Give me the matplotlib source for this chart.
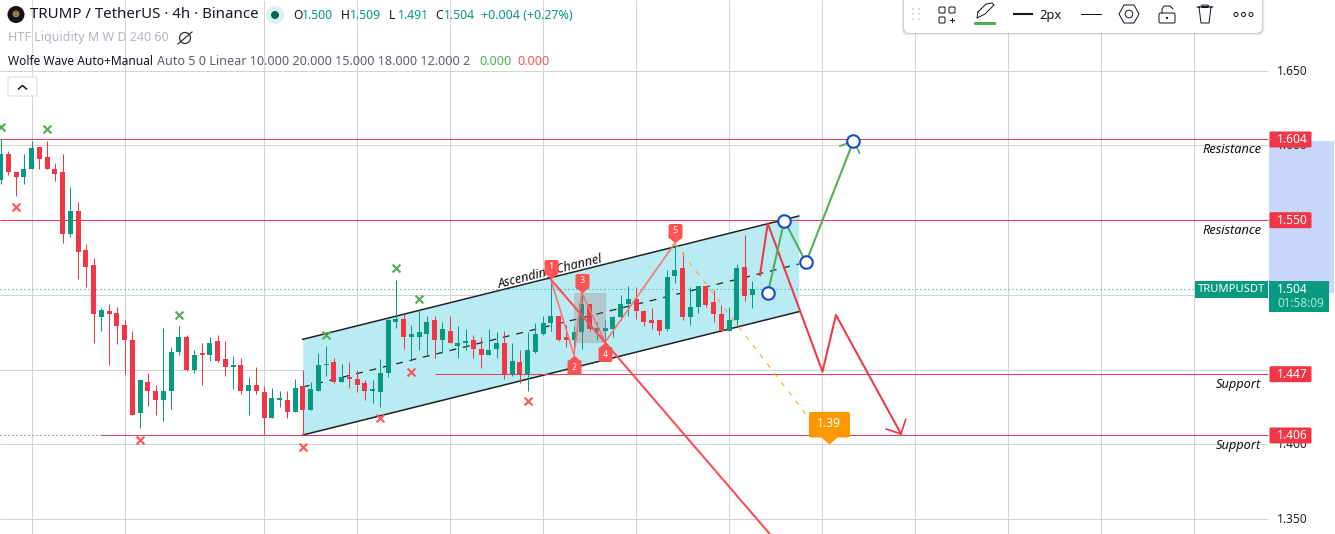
import numpy as np
import matplotlib
matplotlib.use("Agg")
import matplotlib.pyplot as plt
from matplotlib.path import Path
from matplotlib.patches import Rectangle, FancyBboxPatch, Circle, Polygon

plt.rcParams['font.family'] = ['Noto Sans', 'DejaVu Sans']

# ---------- candles ----------
opens = [1.577,1.594,1.582,1.579,1.584,1.599,1.592,1.584,1.582,1.541,1.556,1.530,1.520,1.485,1.489,1.488,1.480,1.470,1.421,1.442,
         1.436,1.430,1.436,1.462,1.472,1.450,1.461,1.460,1.469,1.457,1.452,1.453,1.436,1.440,1.435,1.418,1.430,1.430,1.422,1.439,
         1.423,1.436,1.453,1.455,1.442,1.445,1.444,1.441,1.436,1.435,1.448,1.482,1.484,1.472,1.472,1.474,1.483,1.470,1.476,1.466,
         1.468,1.470,1.464,1.460,1.464,1.468,1.447,1.455,1.447,1.462,1.474,1.481,1.486,1.472,1.470,1.475,1.494,1.476,1.476,1.477,
         1.485,1.494,1.497,1.489,1.483,1.483,1.477,1.513,1.518,1.485,1.492,1.506,1.495,1.487,1.476,1.483,1.519,1.500]
highs = [1.604,1.596,1.582,1.594,1.603,1.599,1.603,1.588,1.594,1.572,1.562,1.534,1.525,1.491,1.494,1.492,1.483,1.476,1.444,1.448,
         1.440,1.478,1.465,1.479,1.473,1.463,1.468,1.472,1.473,1.469,1.459,1.458,1.445,1.452,1.439,1.438,1.436,1.436,1.444,1.450,
         1.442,1.461,1.466,1.458,1.454,1.455,1.450,1.443,1.443,1.457,1.484,1.510,1.487,1.480,1.490,1.486,1.486,1.482,1.486,1.479,
         1.477,1.473,1.472,1.477,1.475,1.476,1.468,1.463,1.475,1.481,1.486,1.511,1.486,1.480,1.479,1.501,1.494,1.482,1.483,1.486,
         1.500,1.506,1.505,1.490,1.491,1.483,1.517,1.534,1.529,1.505,1.506,1.506,1.503,1.493,1.492,1.521,1.540,1.509]
lows = [1.574,1.580,1.566,1.574,1.584,1.584,1.584,1.576,1.535,1.539,1.511,1.505,1.468,1.476,1.453,1.467,1.447,1.420,1.411,1.426,
        1.420,1.416,1.424,1.460,1.449,1.448,1.440,1.456,1.455,1.446,1.437,1.434,1.420,1.434,1.407,1.418,1.425,1.418,1.422,1.406,
        1.423,1.436,1.446,1.441,1.442,1.438,1.435,1.430,1.428,1.425,1.445,1.478,1.464,1.456,1.463,1.460,1.458,1.461,1.468,1.458,
        1.463,1.458,1.451,1.460,1.458,1.444,1.446,1.441,1.436,1.461,1.473,1.476,1.469,1.465,1.460,1.464,1.476,1.470,1.468,1.472,
        1.483,1.486,1.484,1.479,1.477,1.473,1.476,1.508,1.483,1.480,1.488,1.492,1.482,1.475,1.476,1.480,1.496,1.491]
closes = [1.594,1.582,1.579,1.584,1.598,1.591,1.584,1.581,1.541,1.556,1.529,1.519,1.487,1.490,1.487,1.479,1.470,1.420,1.443,1.436,
          1.430,1.436,1.462,1.472,1.450,1.460,1.460,1.468,1.456,1.452,1.453,1.436,1.440,1.436,1.418,1.431,1.431,1.422,1.438,1.423,
          1.437,1.453,1.454,1.442,1.445,1.444,1.440,1.436,1.437,1.448,1.483,1.484,1.472,1.474,1.475,1.482,1.470,1.477,1.468,1.468,
          1.469,1.464,1.460,1.463,1.468,1.447,1.456,1.447,1.463,1.474,1.481,1.486,1.470,1.470,1.475,1.494,1.477,1.478,1.478,1.485,
          1.494,1.497,1.489,1.482,1.481,1.476,1.512,1.517,1.485,1.492,1.506,1.493,1.487,1.476,1.483,1.518,1.499,1.504]

# ---------- scale ticks / time grid ----------
price_ticks = [1.650, 1.600, 1.550, 1.500, 1.450, 1.400, 1.350]
time_grid = [4, 16, 34, 46, 58, 70, 82, 94, 106, 118, 130, 142, 154]

# ---------- levels ----------
level_prices = [1.604, 1.550, 1.447, 1.406]
level_labels = ['1.604', '1.550', '1.447', '1.406']
level_starts = [-1, -1, 56, 13]
level_names = ['Resistance', 'Resistance', 'Support', 'Support']
last_price = 1.504

# ---------- channel ----------
chan_x = [39, 103]
chan_top = [1.4703, 1.5528]
chan_mid = [1.4384, 1.5207]
chan_bot = [1.4063, 1.4888]

# ---------- swing markers ----------
high_x = [0, 6, 23, 42, 51, 54]
high_y = [1.6125, 1.6109, 1.4864, 1.4735, 1.5177, 1.4976]
low_x = [2, 18, 39, 49, 53, 68]
low_y = [1.5588, 1.4033, 1.3981, 1.4176, 1.4484, 1.4288]

# ---------- wolfe wave ----------
wave_x = [71, 74, 75, 78, 87]
wave_y = [1.5105, 1.4598, 1.5015, 1.4683, 1.5345]
wave_names = ['1', '2', '3', '4', '5']
long_x = [71, 99.55]
long_y = [1.5105, 1.3384]
target_x = [87, 106.9]
target_y = [1.5345, 1.4001]
target_label = '1.39'

# ---------- hand drawn paths ----------
green_x = [99, 101.14, 103.94, 110.06]
green_y = [1.5011, 1.5497, 1.5218, 1.6030]
green_head_x = [108.3, 110.06, 110.84]
green_head_y = [1.5996, 1.6030, 1.5950]
red_x = [98, 99, 106.06, 107.8, 116.2]
red_y = [1.5133, 1.5479, 1.4487, 1.4866, 1.4070]
head_x = [114.3, 116.2, 116.8]
head_y = [1.4103, 1.4070, 1.4168]

UP, DOWN = '#089981', '#F23645'
GRID = '#d4d4d4'
W, H = 1335, 534
BAR, X0 = 7.75, 0.5
Y0, SC = 70.7, 1495.0
PX = 0.72  # one screen pixel in points
def px_i(x): return (x - X0) / BAR
def px_p(y): return 1.65 - (y - Y0) / SC

fig = plt.figure(figsize=(W / 100, H / 100), dpi=100)
ax = fig.add_axes([0, 0, 1, 1])
ax.set_xlim(px_i(0), px_i(W))
ax.set_ylim(px_p(H), px_p(0))
ax.axis('off')
right = px_i(1268)

# grid
ax.hlines(price_ticks, px_i(0), right, color=GRID, lw=PX, zorder=1)
ax.vlines(time_grid, px_p(H), px_p(0), color=GRID, lw=PX, zorder=1)

# channel
ax.fill_between(chan_x, chan_bot, chan_top, color='#B9ECF2', lw=0, zorder=2)
ax.plot(chan_x, chan_top, color='#222222', lw=1.1, zorder=3)
ax.plot(chan_x, chan_bot, color='#222222', lw=1.1, zorder=3)
ax.plot(chan_x, chan_mid, color='#222222', lw=0.9, ls=(0, (5.5, 5.5)), zorder=3)

# levels
ax.hlines(level_prices, [px_i(0) if s < 0 else s for s in level_starts], right, color='#E0404F', lw=PX, zorder=3)
ax.hlines(level_prices[3], px_i(0), 13, color='#555555', lw=PX, ls=(0, (1, 3)), zorder=3)
ax.hlines(level_prices[3], 13, right, color='#666666', lw=PX, ls=(0, (1, 3)), zorder=3)
ax.hlines(level_prices[0], px_i(0), right, color='#666666', lw=PX, ls=(0, (1, 3)), zorder=3)
ax.hlines(last_price, px_i(0), px_i(1195), color=UP, lw=PX, ls=(0, (1, 3)), zorder=3)

# candles
n = len(opens)
xs = np.arange(n)
cols = [UP if c >= o else DOWN for o, c in zip(opens, closes)]
ax.vlines(xs, lows, highs, colors=cols, lw=PX, zorder=4)
ax.bar(xs, np.abs(np.array(closes) - np.array(opens)), 5 / BAR, np.minimum(opens, closes), color=cols, lw=0, zorder=4)

# swing markers
ax.scatter(high_x, high_y, marker='x', s=32, color='#4CAF50', lw=1.5, zorder=5)
ax.scatter(low_x, low_y, marker='x', s=32, color='#FF5252', lw=1.5, zorder=5)

# wolfe wave
ax.add_patch(Rectangle((wave_x[1], wave_y[3]), wave_x[3] - wave_x[1], wave_y[2] - wave_y[3],
                       fc='#9c6f6f', ec='#b08a8a', alpha=0.28, lw=PX, zorder=5))
ax.plot(wave_x, wave_y, color='#FF6B70', lw=1.1, zorder=6)
ax.plot(long_x, long_y, color='#F9505A', lw=1.5, zorder=6)
ax.plot(target_x, target_y, color='#FFA726', lw=0.8, ls=(0, (4.5, 6)), zorder=6)

def tag(up, half, lo, hi, neck=None, r=2):
    """Label outline with its tip at (0,0): rounded box with a pointed tail."""
    s = 1 if up else -1
    neck = half if neck is None else neck
    v, c = [(0, 0)], [Path.MOVETO]
    if neck < half:
        v += [(neck, s * lo)]; c += [Path.LINETO]
    v += [(half - r, s * lo), (half, s * lo), (half, s * (lo + r))]; c += [Path.LINETO, Path.CURVE3, Path.CURVE3]
    v += [(half, s * (hi - r)), (half, s * hi), (half - r, s * hi)]; c += [Path.LINETO, Path.CURVE3, Path.CURVE3]
    v += [(-half + r, s * hi), (-half, s * hi), (-half, s * (hi - r))]; c += [Path.LINETO, Path.CURVE3, Path.CURVE3]
    v += [(-half, s * (lo + r)), (-half, s * lo), (-half + r, s * lo)]; c += [Path.LINETO, Path.CURVE3, Path.CURVE3]
    if neck < half:
        v += [(-neck, s * lo)]; c += [Path.LINETO]
    v += [(0, 0)]; c += [Path.LINETO]
    return Path(v, c)

for name, x, y, up in zip(wave_names, wave_x, wave_y, [True, False, True, False, True]):
    ax.plot([x], [y], marker=tag(up, 7, 4.5, 19.5), ms=39 * PX, mfc='#FF5252', mec='none', zorder=8, ls='none')
    ax.annotate(name, (x, y), xytext=(0, 12.5 if up else -12.5), textcoords='offset pixels', color='white',
                fontsize=6.5, fontweight='bold', ha='center', va='center', zorder=9)

# target label
ax.plot([target_x[1]], [target_y[1]], marker=tag(True, 20.5, 7, 32.5, neck=8), ms=65 * PX, mfc='#FF9800', mec='none', zorder=8, ls='none')
ax.annotate(target_label, (target_x[1], target_y[1]), xytext=(0, 21), textcoords='offset pixels', color='white',
            fontsize=8.8, fontweight='bold', ha='center', va='center', zorder=9)

# paths
ax.plot(red_x, red_y, color='#F23645', lw=1.45, zorder=7)
ax.plot(head_x, head_y, color='#F23645', lw=1.2, zorder=7)
ax.plot(green_x, green_y, color='#4CAF50', lw=1.45, zorder=7)
ax.plot(green_head_x, green_head_y, color='#4CAF50', lw=1.2, zorder=7)
ax.plot(green_x, green_y, ls='none', marker='o', ms=9, mfc='white', mec='#1848CC', mew=1.5, zorder=9)

# channel text
ax.annotate('Ascending Channel', (px_i(550), px_p(272)), color='#111111', fontsize=9.2, style='italic', fontweight='medium',
            rotation=14, rotation_mode='anchor', ha='center', va='center', zorder=7)

# ---------- overlay in screen coordinates ----------
ui = fig.add_axes([0, 0, 1, 1])
ui.set_xlim(0, W); ui.set_ylim(H, 0); ui.axis('off'); ui.patch.set_alpha(0)

def T(x, y, s, px=12, color='#131722', ha='left', va='center', **k):
    return ui.text(x, y, s, fontsize=px * PX, color=color, ha=ha, va=va, zorder=20, **k)

# price scale
ui.add_patch(Rectangle((1269, 141), 65, 152, fc='#C8D6FA', lw=0, zorder=2))
for p in price_ticks:
    if p in (1.55, 1.5, 1.45):
        continue
    ui.text(1292, Y0 + (1.65 - p) * SC + 0.5, f'{p:.3f}', fontsize=8.6, color='#222222', ha='center', va='center', zorder=3)

for lab, p, name in zip(level_labels, level_prices, level_names):
    y = Y0 + (1.65 - p) * SC
    ui.add_patch(FancyBboxPatch((1269.5, y - 8), 42, 16, boxstyle='round,pad=0,rounding_size=1.5', fc=DOWN, lw=0, zorder=5))
    T(1292, y + 0.5, lab, 12, 'white', ha='center', fontweight='semibold')
    T(1261, y + 10, name, 12.8, '#111111', ha='right', style='italic', fontweight='medium')

ui.add_patch(Rectangle((1195, 281), 73, 17, fc=UP, lw=0, zorder=5))
T(1231.5, 289.5, 'TRUMPUSDT', 11.2, 'white', ha='center', fontweight='medium')
ui.add_patch(Rectangle((1269, 281), 60, 31, fc=UP, lw=0, zorder=5))
T(1277, 289.5, '1.504', 12, 'white', fontweight='semibold')
T(1277, 303.5, '01:58:09', 11.7, '#B5E3D9')

# header
ui.add_patch(Circle((16, 14.5), 8.5, fc='#16120f', lw=0, zorder=10))
ui.add_patch(Circle((16, 14), 3.5, fc='#8a7a5a', lw=0, zorder=11))
T(30, 15, 'TRUMP / TetherUS · 4h · Binance', 15, '#131722')
ui.add_patch(Circle((275, 15), 9, fc='#DDF1ED', lw=0, zorder=10))
ui.add_patch(Circle((275, 15), 4, fc='#056656', lw=0, zorder=11))
for x, a, b in zip([293, 341, 389, 435], 'OHLC', ['1.500', '1.509', '1.491', '1.504']):
    T(x, 15.5, a, 12, '#131722')
    T(x + 9, 15.5, b, 12.2, UP)
T(481, 15.5, '+0.004 (+0.27%)', 12.4, UP)
T(8, 38, 'HTF Liquidity M W D 240 60', 12.5, '#B2B5BE')
ui.add_patch(Circle((185, 38), 5.5, fc='none', ec='#333333', lw=0.9, zorder=10))
ui.plot([178, 192], [44, 32], color='#333333', lw=0.9, zorder=10)
T(8, 61.5, 'Wolfe Wave Auto+Manual', 12, '#131722')
T(157, 61.5, 'Auto 5 0 Linear 10.000 20.000 15.000 18.000 12.000 2', 12.6, '#5D606B')
T(479, 61.5, '0.000', 12.6, '#4CAF50')
T(517, 61.5, '0.000', 12.6, '#FF5252')
ui.add_patch(FancyBboxPatch((8, 77), 29, 19, boxstyle='round,pad=0,rounding_size=2', fc='white', ec='#DADADA', lw=PX, zorder=10))
ui.plot([18.5, 22.5, 26.5], [89, 85.5, 89], color='#131722', lw=1.1, zorder=11)

# toolbar
for off, al in [(2.5, 0.05), (1.5, 0.07), (0.7, 0.09)]:
    ui.add_patch(FancyBboxPatch((904 - off, -8), 358 + 2 * off, 41 + off, boxstyle='round,pad=0,rounding_size=6', fc='black', alpha=al, lw=0, zorder=10))
ui.add_patch(FancyBboxPatch((904, -8), 358, 41, boxstyle='round,pad=0,rounding_size=6', fc='white', lw=0, zorder=11))
ink = dict(color='#131722', lw=PX, zorder=12)
for dx in (913, 919):
    for dy in (9, 14, 19):
        ui.add_patch(Circle((dx, dy), 1, fc='#D5D5D5', lw=0, zorder=12))
for a, b in [(939, 7), (949, 7), (939, 17)]:
    ui.add_patch(FancyBboxPatch((a, b), 6, 6, boxstyle='round,pad=0,rounding_size=1', fc='none', ec='#131722', lw=PX, zorder=12))
ui.plot([950, 954, np.nan, 952, 952], [20, 20, np.nan, 18, 22], **ink)
ui.plot([978, 986, 992, 994, 985, 977, 978], [12, 4, 3, 5, 14, 18, 12], **ink)
ui.add_patch(FancyBboxPatch((974, 22), 22, 3, boxstyle='round,pad=0,rounding_size=1', fc='#4CAF50', lw=0, zorder=12))
ui.plot([1014, 1032], [14, 14], color='#131722', lw=1.5, zorder=12)
T(1039, 15, '2px', 13, '#131722')
ui.plot([1081, 1101], [13.5, 13.5], **ink)
ui.add_patch(Polygon([(1119, 14), (1124, 5), (1134, 5), (1139, 14), (1134, 23), (1124, 23)], closed=True, fc='none', ec='#131722', lw=PX, zorder=12))
ui.add_patch(Circle((1129, 14), 3.8, fc='none', ec='#131722', lw=PX, zorder=12))
ui.add_patch(FancyBboxPatch((1159, 13), 16, 10, boxstyle='round,pad=0,rounding_size=1.5', fc='none', ec='#131722', lw=PX, zorder=12))
ui.plot([1162, 1162, 1164, 1170, 1172, 1173], [13, 9, 6, 6, 8, 9], **ink)
ui.add_patch(Circle((1167, 18), 1.1, fc='#131722', lw=0, zorder=12))
ui.plot([1197, 1213, np.nan, 1199, 1201, 1209, 1211, 1211, np.nan, 1202, 1208], [7, 7, np.nan, 7, 23, 23, 7, 7, np.nan, 7, 7], **ink)
ui.plot([1201, 1203, 1207, 1209], [6, 5, 5, 6], **ink)
for dx in (1236, 1243.5, 1251):
    ui.add_patch(Circle((dx, 14.5), 2, fc='none', ec='#131722', lw=PX, zorder=12))

fig.savefig('out.png', dpi=100)
